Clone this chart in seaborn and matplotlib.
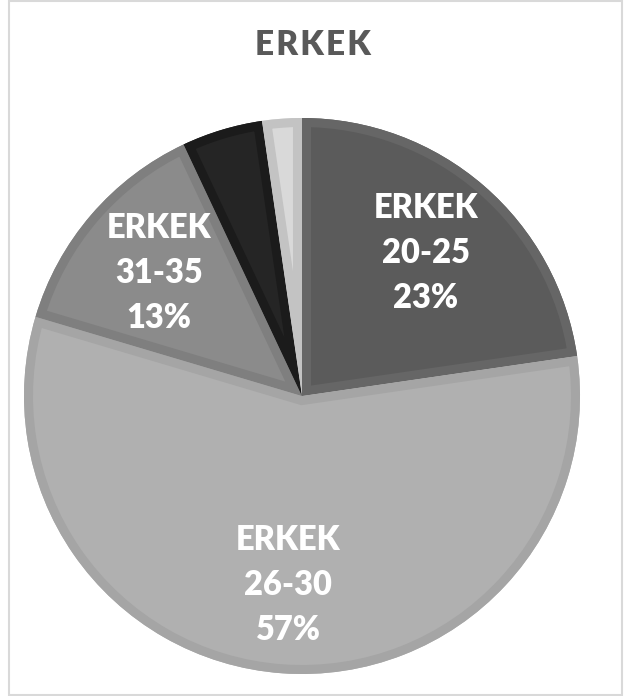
import matplotlib
matplotlib.use("Agg")
import matplotlib.pyplot as plt
import seaborn as sns
from matplotlib.patches import Rectangle, Wedge

# age groups of the male respondents
groups = ['20-25', '26-30', '31-35', '36-40', '41+']
shares = [22.7, 56.9, 13.4, 4.7, 2.3]
shown = ['20-25', '26-30', '31-35']

fills = ['#5b5b5b', '#b0b0b0', '#8b8b8b', '#252525', '#d9d9d9']
bands = ['#666666', '#a5a5a5', '#7f7f7f', '#1b1b1b', '#c3c3c3']

sns.set_theme(style='white')
plt.rcParams['font.family'] = ['Lato', 'DejaVu Sans']

W, H = 624, 696
fig = plt.figure(figsize=(W / 100, H / 100), dpi=100)

cx, cy, R = 302, 696 - 396, 278
ax = fig.add_axes([(cx - R) / W, (cy - R) / H, 2 * R / W, 2 * R / H])

labels_iter = iter(groups)


def fmt(pct):
    g = next(labels_iter)
    if g not in shown:
        return ''
    return 'ERKEK\n{}\n{:.0f}%'.format(g, pct)


wedges, texts = ax.pie(shares, colors=fills, startangle=90, counterclock=False,
                       autopct=fmt, pctdistance=0.68, radius=1,
                       wedgeprops={'linewidth': 0},
                       textprops={'color': 'white', 'fontsize': 23.5,
                                  'fontweight': 'heavy', 'linespacing': 1.5})[:2]

# inner bevel band: thick outline of a copy, clipped to the wedge itself
for w, b in zip(wedges, bands):
    edge = Wedge(w.center, w.r, w.theta1, w.theta2, fill=False,
                 edgecolor=b, linewidth=13, joinstyle='miter', zorder=w.get_zorder() + 0.1)
    ax.add_patch(edge)
    edge.set_clip_path(w)

for t in texts:
    t.set_zorder(5)
    x, y = t.get_position()
    t.set_position((x, y - 0.015))

ax.set_xlim(-1, 1)
ax.set_ylim(-1, 1)
ax.set_aspect('equal')
ax.axis('off')

fig.text(313 / W, 1 - 45 / H, 'E R K E K'.replace(' ', '\u200a'), ha='center', va='center',
         fontsize=24, fontweight='heavy', color='#595959')

fig.patches.append(Rectangle((9 / W, 1 / H), 613 / W, 694 / H, transform=fig.transFigure,
                             fill=False, edgecolor='#d9d9d9', linewidth=1.5))

fig.savefig('out.png', dpi=100)
